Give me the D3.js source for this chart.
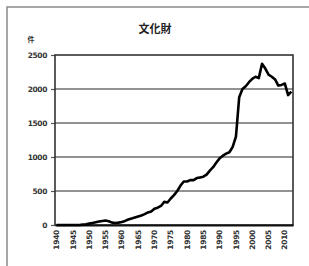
<!DOCTYPE html>
<html>
<head>
<meta charset="utf-8">
<script src="https://cdn.jsdelivr.net/npm/d3@7"></script>
<style>
  body { margin: 0; background: #fff; }
  svg { display: block; }
</style>
</head>
<body>
<div id="chart"></div>
<script>
// 文化財 件数 1940-2012
const years = d3.range(1940, 2013);
const counts = [
  0, 0, 0, 0, 0, 0, 0, 0, 5, 10,
  20, 30, 40, 50, 60, 65, 55, 35, 30, 35,
  45, 60, 80, 95, 110, 125, 140, 160, 185, 200,
  240, 255, 280, 340, 330, 390, 440, 500, 580, 640,
  640, 660, 660, 690, 700, 710, 740, 800, 850, 920,
  980, 1020, 1050, 1070, 1150, 1300, 1880, 2000, 2040, 2100,
  2150, 2180, 2160, 2370, 2300, 2210, 2180, 2140, 2050, 2060,
  2080, 1910, 1960
];
const yTicks = [0, 500, 1000, 1500, 2000, 2500];
const xLabels = d3.range(1940, 2011, 5);

const width = 309;
const height = 266;
const plot = {left: 55, top: 55, right: 293, bottom: 225};

const svg = d3.select("#chart")
  .append("svg")
    .attr("width", width)
    .attr("height", height);

// outer frame (cut by the picture edge on the right and bottom)
svg.append("rect")
  .attr("x", 7).attr("y", 7)
  .attr("width", 400).attr("height", 400)
  .attr("fill", "none")
  .attr("stroke", "#8a8a8a")
  .attr("stroke-width", 1.5);

const xScale = d3.scaleBand()
  .domain(years)
  .range([plot.left, plot.right])
  .padding(0);

const yScale = d3.scaleLinear()
  .domain([0, 2500])
  .range([plot.bottom, plot.top]);

// grid lines
svg.append("g")
  .selectAll("line")
  .data(yTicks.filter(d => d > 0 && d < 2500))
  .join("line")
    .attr("x1", plot.left).attr("x2", plot.right)
    .attr("y1", d => yScale(d)).attr("y2", d => yScale(d))
    .attr("stroke", "#6f6f6f")
    .attr("stroke-width", 1.3);

// y axis
const yAxis = d3.axisLeft(yScale)
  .tickValues(yTicks)
  .tickFormat(d3.format("d"))
  .tickSize(4)
  .tickPadding(4);

const gy = svg.append("g")
  .attr("transform", `translate(${plot.left},0)`)
  .call(yAxis);
gy.select(".domain").remove();
gy.selectAll(".tick line").attr("stroke", "#555").attr("stroke-width", 1.2);
gy.selectAll(".tick text")
  .attr("font-family", "DejaVu Sans, sans-serif")
  .attr("font-size", 7.5)
  .attr("font-weight", "bold")
  .attr("letter-spacing", -0.4)
  .attr("fill", "#333");

// plot border
svg.append("rect")
  .attr("x", plot.left).attr("y", plot.top)
  .attr("width", plot.right - plot.left)
  .attr("height", plot.bottom - plot.top)
  .attr("fill", "none")
  .attr("stroke", "#333")
  .attr("stroke-width", 1.6);

// x axis
const xAxis = d3.axisBottom(xScale)
  .tickValues(xLabels)
  .tickSize(0)
  .tickPadding(0);

const gx = svg.append("g")
  .attr("transform", `translate(0,${plot.bottom})`)
  .call(xAxis);
gx.select(".domain").attr("stroke", "#111").attr("stroke-width", 2.2);
gx.selectAll(".tick text")
  .attr("transform", "rotate(-90)")
  .attr("x", -5)
  .attr("y", 0)
  .attr("dy", "0.35em")
  .attr("text-anchor", "end")
  .attr("font-family", "DejaVu Sans, sans-serif")
  .attr("font-size", 7.5)
  .attr("font-weight", "bold")
  .attr("letter-spacing", -0.3)
  .attr("fill", "#333");

// data line
const line = d3.line()
  .x((d, i) => xScale(years[i]) + xScale.bandwidth() / 2)
  .y(d => yScale(d));

svg.append("path")
  .datum(counts)
  .attr("d", line)
  .attr("fill", "none")
  .attr("stroke", "#000")
  .attr("stroke-width", 2.6)
  .attr("stroke-linejoin", "round");

// title and unit
svg.append("text")
  .text("文化財")
  .attr("x", 155)
  .attr("y", 33)
  .attr("text-anchor", "middle")
  .attr("font-family", "Noto Sans CJK JP, sans-serif")
  .attr("font-size", 11)
  .attr("font-weight", "bold")
  .attr("fill", "#222");

svg.append("text")
  .text("件")
  .attr("x", 31)
  .attr("y", 42)
  .attr("text-anchor", "middle")
  .attr("font-family", "Noto Sans CJK JP, sans-serif")
  .attr("font-size", 7)
  .attr("font-weight", "bold")
  .attr("fill", "#333");
</script>
</body>
</html>
